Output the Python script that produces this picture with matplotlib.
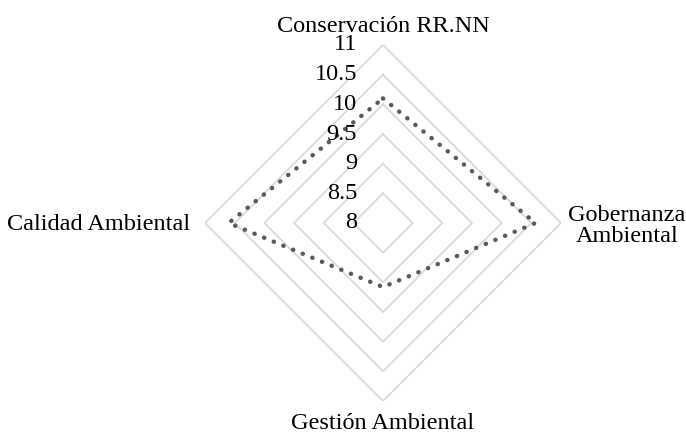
import numpy as np
import matplotlib
matplotlib.use("Agg")
from matplotlib import pyplot as plt
from matplotlib.transforms import offset_copy

categories = ["Conservación RR.NN", "Gobernanza\nAmbiental", "Gestión Ambiental", "Calidad Ambiental"]
values = [10.1, 10.57, 9.08, 10.6]
levels = [8.5, 9, 9.5, 10, 10.5, 11]
tick_labels = ["8", "8.5", "9", "9.5", "10", "10.5", "11"]
tick_values = [8, 8.5, 9, 9.5, 10, 10.5, 11]

plt.rcParams["font.family"] = ["Liberation Serif", "DejaVu Serif"]
plt.rcParams["font.size"] = 17.5

W, H = 686, 432
cx, cy, R = 383, 223, 178
fig = plt.figure(figsize=(W / 100, H / 100), dpi=100)
ax = fig.add_axes([(cx - R) / W, (H - cy - R) / H, 2 * R / W, 2 * R / H], polar=True)
ax.set_theta_offset(np.pi / 2)
ax.set_theta_direction(-1)
ax.set_rlim(8, 11)
ax.grid(False)
ax.spines["polar"].set_visible(False)
ax.set_xticks([])
ax.set_yticks([])
ax.patch.set_visible(False)

theta = np.linspace(0, 2 * np.pi, len(categories), endpoint=False)
th_closed = np.append(theta, theta[0])

# diamond grid
for lv in levels:
    ax.plot(th_closed, [lv] * len(th_closed), color="#d9d9d9", lw=1.3, zorder=1)

# data series
ax.plot(th_closed, values + values[:1], color="#595959", lw=3.2,
        linestyle=(0, (0.05, 2.3)), dash_capstyle="round", zorder=3)

# radial tick labels, left of the top axis
tr = offset_copy(ax.transData, fig=fig, x=-26, y=0, units="dots")
for v, lab in zip(tick_values, tick_labels):
    ax.text(0, v, lab, transform=tr, ha="right", va="center", zorder=4)

# category labels
ax.text(theta[0], 11.22, categories[0], ha="center", va="baseline")
ax.text(theta[1], 11.05, categories[1], ha="left", va="center", multialignment="center",
        linespacing=1.0,
        transform=offset_copy(ax.transData, fig=fig, x=4, y=-3, units="dots"))
ax.text(theta[2], 11.47, categories[2], ha="center", va="baseline")
ax.text(theta[3], 11.05, categories[3], ha="right", va="center",
        transform=offset_copy(ax.transData, fig=fig, x=-12, y=-1, units="dots"))

fig.savefig("out.png", dpi=100)
